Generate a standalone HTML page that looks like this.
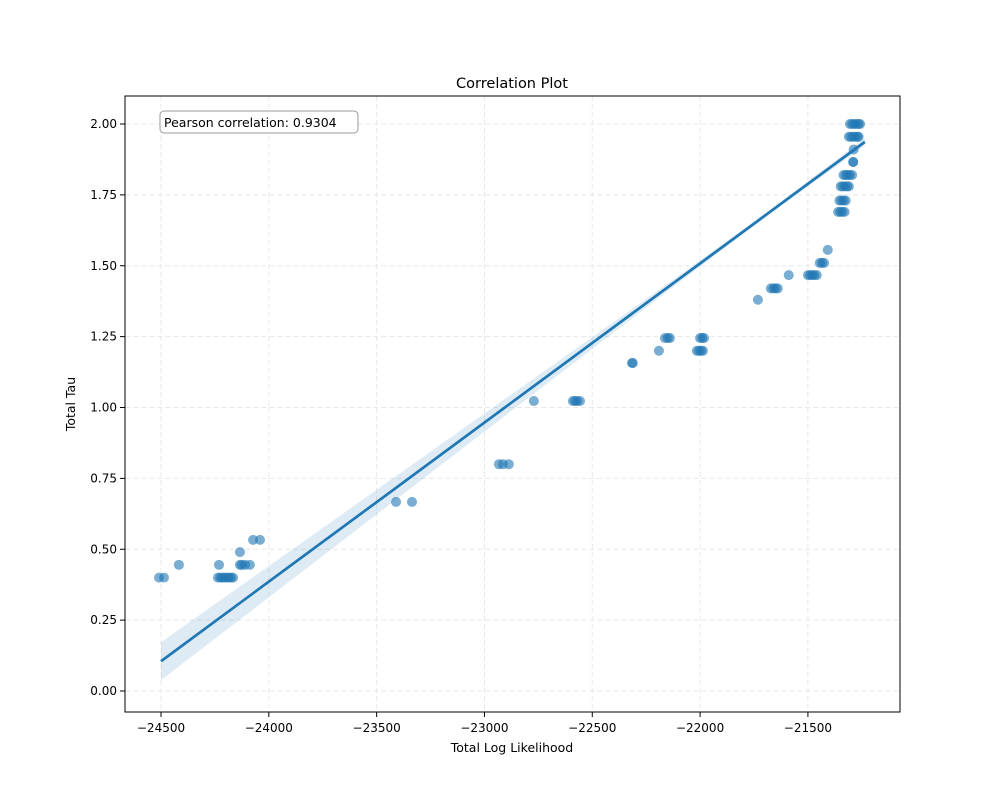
<!DOCTYPE html>
<html><head><meta charset="utf-8"><style>
body{margin:0;background:#fff}
svg text{font-family:"DejaVu Sans","Liberation Sans",sans-serif;fill:#000}
</style></head><body>
<svg id="c" width="1000" height="800"></svg>
<script>
const xs=[-24509,-24486,-24417,-24236,-24225,-24215,-24205,-24195,-24185,-24175,-24166,-24231,-24134,-24134,-24125,-24110,-24088,-24073,-24041,
-23410,-23336,-22933,-22914,-22887,-22771,-22590,-22580,-22570,-22557,-22316,-22312,-22191,-22163,-22150,-22140,-22015,-22005,-21995,-21987,-22000,-21990,-21982,
-21732,-21672,-21660,-21650,-21640,-21589,-21500,-21490,-21480,-21470,-21459,-21445,-21435,-21425,-21408,
-21360,-21350,-21340,-21330,-21354,-21344,-21334,-21325,-21348,-21338,-21328,-21318,-21310,-21335,-21325,-21315,-21305,-21295,-21290,-21290,-21288,
-21310,-21300,-21290,-21280,-21270,-21265,-21305,-21295,-21285,-21275,-21265,-21258];
const ys=[0.40,0.40,0.445,0.40,0.40,0.40,0.40,0.40,0.40,0.40,0.40,0.445,0.49,0.445,0.445,0.445,0.445,0.533,0.533,
0.667,0.667,0.80,0.80,0.80,1.023,1.023,1.023,1.023,1.023,1.157,1.157,1.20,1.245,1.245,1.245,1.20,1.20,1.20,1.20,1.245,1.245,1.245,
1.38,1.42,1.42,1.42,1.42,1.467,1.467,1.467,1.467,1.467,1.467,1.51,1.51,1.51,1.556,
1.69,1.69,1.69,1.69,1.73,1.73,1.73,1.73,1.78,1.78,1.78,1.78,1.78,1.82,1.82,1.82,1.82,1.82,1.866,1.866,1.91,
1.955,1.955,1.955,1.955,1.955,1.955,2.0,2.0,2.0,2.0,2.0,2.0];
const xTicks=[-24500,-24000,-23500,-23000,-22500,-22000,-21500];
const yTicks=[0,0.25,0.5,0.75,1.0,1.25,1.5,1.75,2.0];
const fitX=[-24500,-21236];
const fitY=[0.105,1.937];
const pearson="0.9304";
const NS="http://www.w3.org/2000/svg";
const svg=document.getElementById('c');
const L=125,R=900,T=96,B=712;
const X=v=>161+(v+24500)*0.21564;
const Y=v=>691-v*283.5;
function el(t,a,p){const e=document.createElementNS(NS,t);for(const k in a)e.setAttribute(k,a[k]);(p||svg).appendChild(e);return e;}
xTicks.forEach(t=>{const g=el('line',{x1:X(t),x2:X(t),y1:T,y2:B,stroke:'#e8e8e8','stroke-dasharray':'5,3'});


const k=el('line',{x1:X(t),x2:X(t),y1:B,y2:B+5,stroke:'#000'});


const s=el('text',{x:X(t),y:B+20,'text-anchor':'middle','font-size':12});s.textContent=String(t).replace('-','\u2212');

});
yTicks.forEach(t=>{const g=el('line',{x1:L,x2:R,y1:Y(t),y2:Y(t),stroke:'#e8e8e8','stroke-dasharray':'5,3'});


const k=el('line',{x1:L-5,x2:L,y1:Y(t),y2:Y(t),stroke:'#000'});


const s=el('text',{x:L-8,y:Y(t)+4,'text-anchor':'end','font-size':12});s.textContent=t.toFixed(2);

});
const xm=-21700,a=0.000064,b=5.64e-10;
const slope=(fitY[1]-fitY[0])/(fitX[1]-fitX[0]);
const f=x=>fitY[0]+slope*(x-fitX[0]);
let up=[],dn=[];
for(let i=0;i<=60;i++){const x=fitX[0]+(fitX[1]-fitX[0])*i/60;const h=Math.sqrt(a+b*(x-xm)**2);up.push(X(x)+','+Y(f(x)+h));dn.unshift(X(x)+','+Y(f(x)-h));}
const band=el('polygon',{points:up.concat(dn).join(' '),fill:'#1f77b4','fill-opacity':0.15});


xs.forEach((x,i)=>{const c=el('circle',{cx:X(x),cy:Y(ys[i]),r:5,fill:'#1f77b4','fill-opacity':0.6});

});
const ln=el('line',{x1:X(fitX[0]),y1:Y(fitY[0]),x2:X(fitX[1]),y2:Y(fitY[1]),stroke:'#1f77b4','stroke-width':2.7});


const fr=el('rect',{x:L,y:T,width:R-L,height:B-T,fill:'none',stroke:'#000','stroke-width':1});


const bx=el('rect',{x:160,y:111,width:198,height:22,rx:4,fill:'#fff',stroke:'#999'});


const at=el('text',{x:164,y:127,'font-size':12.5});at.textContent='Pearson correlation: '+pearson;


const tt=el('text',{x:512,y:88,'text-anchor':'middle','font-size':14.5});tt.textContent='Correlation Plot';


const xl=el('text',{x:512,y:752,'text-anchor':'middle','font-size':12.5});xl.textContent='Total Log Likelihood';


const yl=el('text',{x:75,y:404,'text-anchor':'middle','font-size':12.5,transform:'rotate(-90 75 404)'});yl.textContent='Total Tau';


</script>
</body></html>
